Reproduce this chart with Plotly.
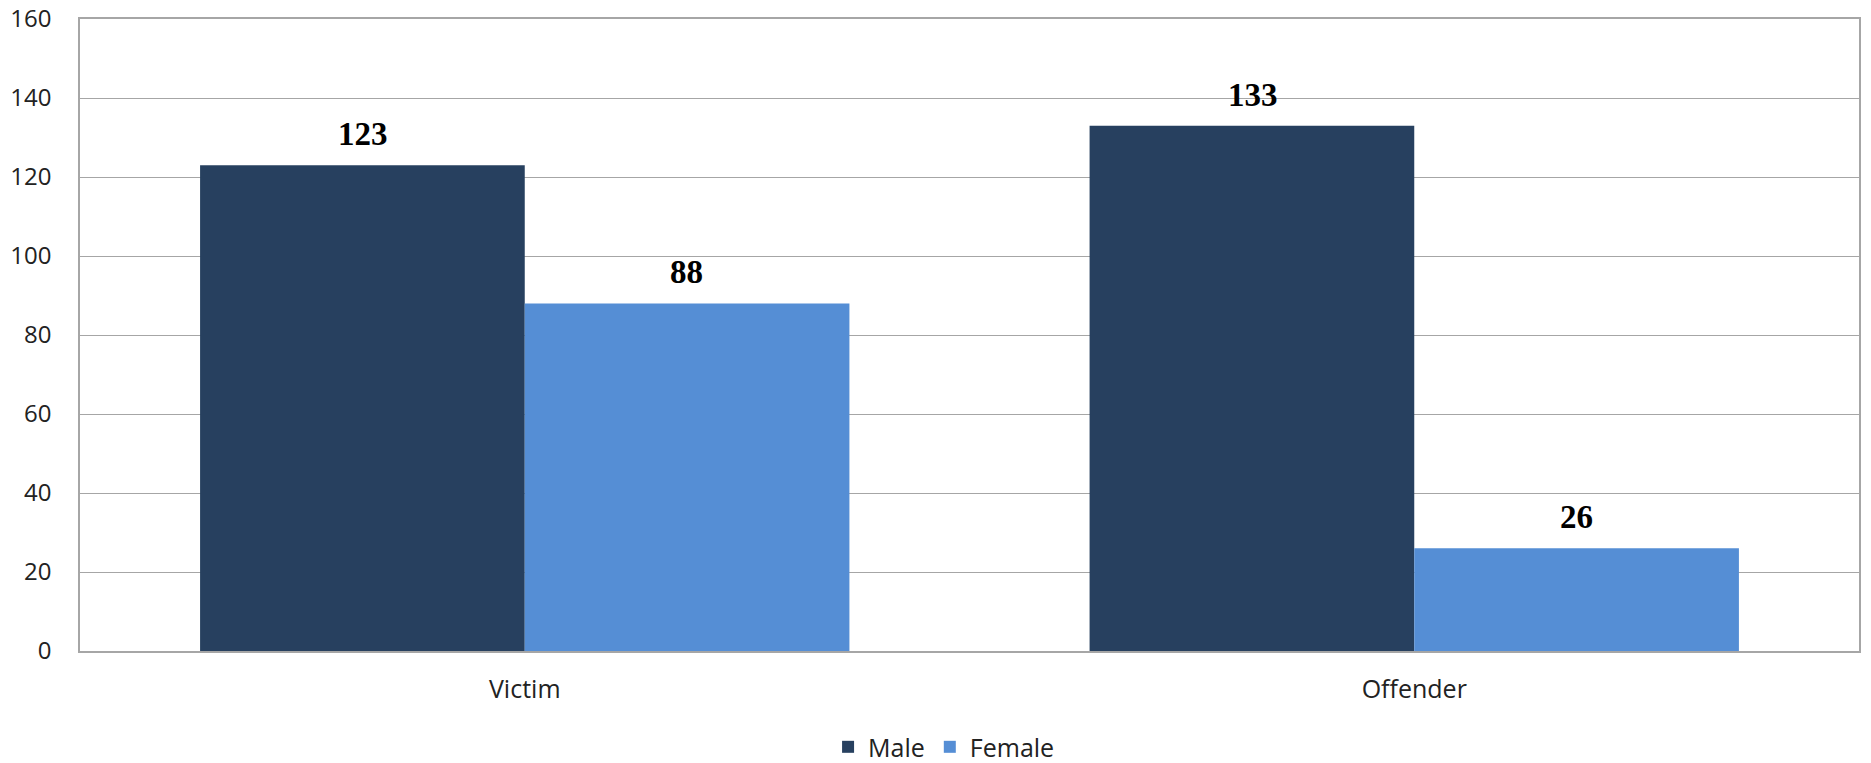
import plotly.graph_objects as go

categories = ["Victim", "Offender"]
male = [123, 133]
female = [88, 26]
series_names = ["Male", "Female"]
y_ticks = [0, 20, 40, 60, 80, 100, 120, 140, 160]

colors = ["#27405F", "#558ED5"]

fig = go.Figure()
for name, vals, col in zip(series_names, [male, female], colors):
    fig.add_trace(go.Bar(
        x=categories, y=vals, name=name, marker=dict(color=col, line=dict(width=0)),
    ))

# value labels
bar_px = 323.5
for i, (name, vals) in enumerate(zip(series_names, [male, female])):
    shift = -bar_px / 2 if i == 0 else bar_px / 2
    for c, v in zip(categories, vals):
        fig.add_annotation(
            x=c, y=v, text="<b>%d</b>" % v, showarrow=False,
            xshift=shift, yshift=11, yanchor="bottom",
            font=dict(family="Liberation Serif", size=33, color="#000000"),
        )

fig.update_layout(
    width=1871, height=763,
    margin=dict(l=80, r=12, t=19, b=112, autoexpand=False),
    plot_bgcolor="white", paper_bgcolor="white",
    barmode="group", bargap=0.27, bargroupgap=0,
    font=dict(family="Open Sans", size=24, color="#222222"),
    legend=dict(orientation="h", x=0.4205, xanchor="left", y=-0.152, yanchor="middle",
                font=dict(size=25), itemwidth=30, tracegroupgap=0),
    showlegend=True,
)
fig.update_xaxes(
    showline=True, linecolor="#A6A6A6", linewidth=1.5, mirror=True, automargin=False,
    ticks="", ticklabelstandoff=15, tickfont=dict(size=25),
)
fig.update_yaxes(
    range=[0, 160], tickvals=y_ticks, showgrid=True, gridcolor="#A6A6A6", gridwidth=1.3,
    showline=True, linecolor="#A6A6A6", linewidth=1.5, mirror=True, automargin=False,
    ticks="", ticklabelstandoff=22, tickfont=dict(size=24), zeroline=False,
)

fig.write_html("out.html", config={"displayModeBar": False},
               post_script="document.body.style.margin='0';document.body.style.overflow='hidden';")
